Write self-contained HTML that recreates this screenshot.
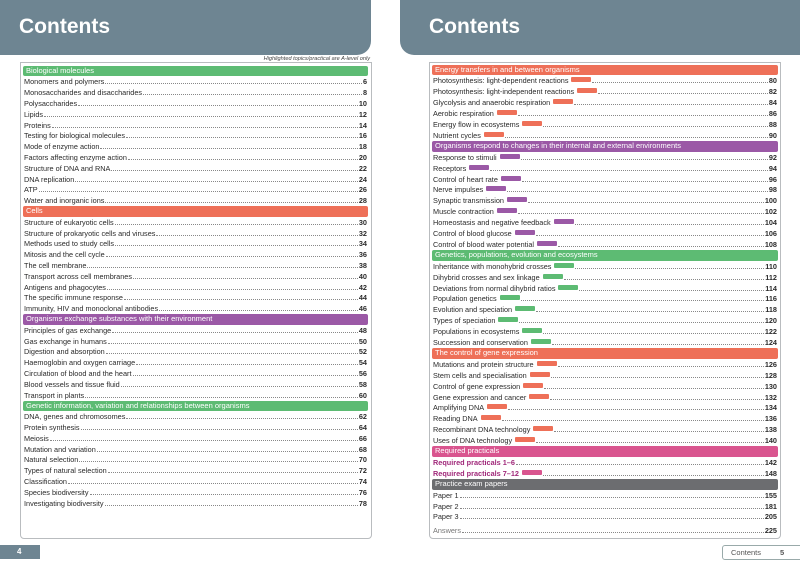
<!DOCTYPE html>
<html><head><meta charset="utf-8">
<style>
*{margin:0;padding:0;box-sizing:border-box}
body{width:800px;height:566px;background:#fff;position:relative;overflow:hidden;font-family:"Liberation Sans","DejaVu Sans",sans-serif;color:#2a2a2a}
.band{position:absolute;top:0;height:55px;background:#6e8592}
.band h1{position:absolute;top:15px;font-size:21px;color:#fff;font-weight:bold}
.box{position:absolute;top:62px;height:477px;border:1px solid #b9bcbf;border-radius:0 0 4px 4px}
.row{position:absolute;height:11px;font-size:7.3px;line-height:11px;display:flex;white-space:nowrap}
.row .t{flex:none}
.row .d{flex:1;border-bottom:1px dotted #888;margin:0 1px 3px}
.row .p{flex:none;font-weight:bold;color:#2a2a2a}
.hdr{position:absolute;height:10.5px;font-size:7.5px;line-height:10.5px;color:#fff;padding-left:3px;border-radius:2px}
.bd{display:inline-block;width:20px;height:5px;margin-left:3px;vertical-align:1px;border-radius:1px}
</style></head><body>
<div class="band" style="left:0;width:371px;border-radius:0 0 14px 0"><h1 style="left:19px">Contents</h1></div>
<div class="band" style="left:400px;width:400px;border-radius:0 0 0 14px"><h1 style="left:29px">Contents</h1></div>
<div style="position:absolute;left:200px;width:170px;top:56px;font-size:5.6px;font-style:italic;text-align:right;color:#444">Highlighted topics/practical are A-level only</div>
<div class="box" style="left:20px;width:352px"></div>
<div class="box" style="left:429px;width:352px"></div>
<div style="position:absolute;left:0;top:545px;width:40px;height:14px;background:#6e8592;color:#fff;font-size:8px;font-weight:bold;line-height:14px;padding-left:17px">4</div>
<div style="position:absolute;left:722px;top:545px;width:80px;height:15px;border:1px solid #9aa;border-radius:3px 0 0 3px;font-size:7.5px;line-height:13px;color:#555;padding-left:8px">Contents<span style="margin-left:19px;font-weight:bold">5</span></div>
<div id="c"></div>
<script>
const leftRows=[
["H","Biological molecules","#5dbb73"],["Monomers and polymers","6"],["Monosaccharides and disaccharides","8"],["Polysaccharides","10"],["Lipids","12"],["Proteins","14"],["Testing for biological molecules","16"],["Mode of enzyme action","18"],["Factors affecting enzyme action","20"],["Structure of DNA and RNA","22"],["DNA replication","24"],["ATP","26"],["Water and inorganic ions","28"],
["H","Cells","#ee7058"],["Structure of eukaryotic cells","30"],["Structure of prokaryotic cells and viruses","32"],["Methods used to study cells","34"],["Mitosis and the cell cycle","36"],["The cell membrane","38"],["Transport across cell membranes","40"],["Antigens and phagocytes","42"],["The specific immune response","44"],["Immunity, HIV and monoclonal antibodies","46"],
["H","Organisms exchange substances with their environment","#9b59a6"],["Principles of gas exchange","48"],["Gas exchange in humans","50"],["Digestion and absorption","52"],["Haemoglobin and oxygen carriage","54"],["Circulation of blood and the heart","56"],["Blood vessels and tissue fluid","58"],["Transport in plants","60"],
["H","Genetic information, variation and relationships between organisms","#5dbb73"],["DNA, genes and chromosomes","62"],["Protein synthesis","64"],["Meiosis","66"],["Mutation and variation","68"],["Natural selection","70"],["Types of natural selection","72"],["Classification","74"],["Species biodiversity","76"],["Investigating biodiversity","78"]];
const rightRows=[
["H","Energy transfers in and between organisms","#ee7058"],["Photosynthesis: light-dependent reactions","80","#ee7058"],["Photosynthesis: light-independent reactions","82","#ee7058"],["Glycolysis and anaerobic respiration","84","#ee7058"],["Aerobic respiration","86","#ee7058"],["Energy flow in ecosystems","88","#ee7058"],["Nutrient cycles","90","#ee7058"],
["H","Organisms respond to changes in their internal and external environments","#9b59a6"],["Response to stimuli","92","#9b59a6"],["Receptors","94","#9b59a6"],["Control of heart rate","96","#9b59a6"],["Nerve impulses","98","#9b59a6"],["Synaptic transmission","100","#9b59a6"],["Muscle contraction","102","#9b59a6"],["Homeostasis and negative feedback","104","#9b59a6"],["Control of blood glucose","106","#9b59a6"],["Control of blood water potential","108","#9b59a6"],
["H","Genetics, populations, evolution and ecosystems","#5dbb73"],["Inheritance with monohybrid crosses","110","#5dbb73"],["Dihybrid crosses and sex linkage","112","#5dbb73"],["Deviations from normal dihybrid ratios","114","#5dbb73"],["Population genetics","116","#5dbb73"],["Evolution and speciation","118","#5dbb73"],["Types of speciation","120","#5dbb73"],["Populations in ecosystems","122","#5dbb73"],["Succession and conservation","124","#5dbb73"],
["H","The control of gene expression","#ee7058"],["Mutations and protein structure","126","#ee7058"],["Stem cells and specialisation","128","#ee7058"],["Control of gene expression","130","#ee7058"],["Gene expression and cancer","132","#ee7058"],["Amplifying DNA","134","#ee7058"],["Reading DNA","136","#ee7058"],["Recombinant DNA technology","138","#ee7058"],["Uses of DNA technology","140","#ee7058"],
["H","Required practicals","#d9558f"],["Required practicals 1–6","142",null,"#a0287a"],["Required practicals 7–12","148","#d9558f","#a0287a"],
["H","Practice exam papers","#6c6d70"],["Paper 1","155"],["Paper 2","181"],["Paper 3","205"]];
const c=document.getElementById('c');
function build(rows,x0,w,y0,step){
 rows.forEach((r,i)=>{
  const y=y0+i*step;
  const el=document.createElement('div');
  if(r[0]==="H"){
   el.className='hdr';el.style.left=(x0-1)+'px';el.style.width=(w+2)+'px';el.style.top=(y-5.2)+'px';el.style.background=r[2];el.textContent=r[1];
   
   
  }else{
   el.className='row';el.style.left=x0+'px';el.style.width=w+'px';el.style.top=(y-5.5)+'px';
   const ts=r[3]?' style="color:'+r[3]+';font-weight:bold"':'';
   el.innerHTML='<span class="t"'+ts+'>'+r[0]+(r[2]?'<span class="bd" style="background:'+r[2]+'"></span>':'')+'</span><span class="d"></span><span class="p">'+r[1]+'</span>';
   
   
  }
  c.appendChild(el);
 });
}
build(leftRows,24,343,71,10.8);
build(rightRows,433,344,70,10.9);
const a=document.createElement('div');
a.className='row';a.style.left='433px';a.style.width='344px';a.style.top='524.5px';a.style.color='#777';
a.innerHTML='<span class="t">Answers</span><span class="d"></span><span class="p">225</span>';


c.appendChild(a);
</script>
</body></html>
